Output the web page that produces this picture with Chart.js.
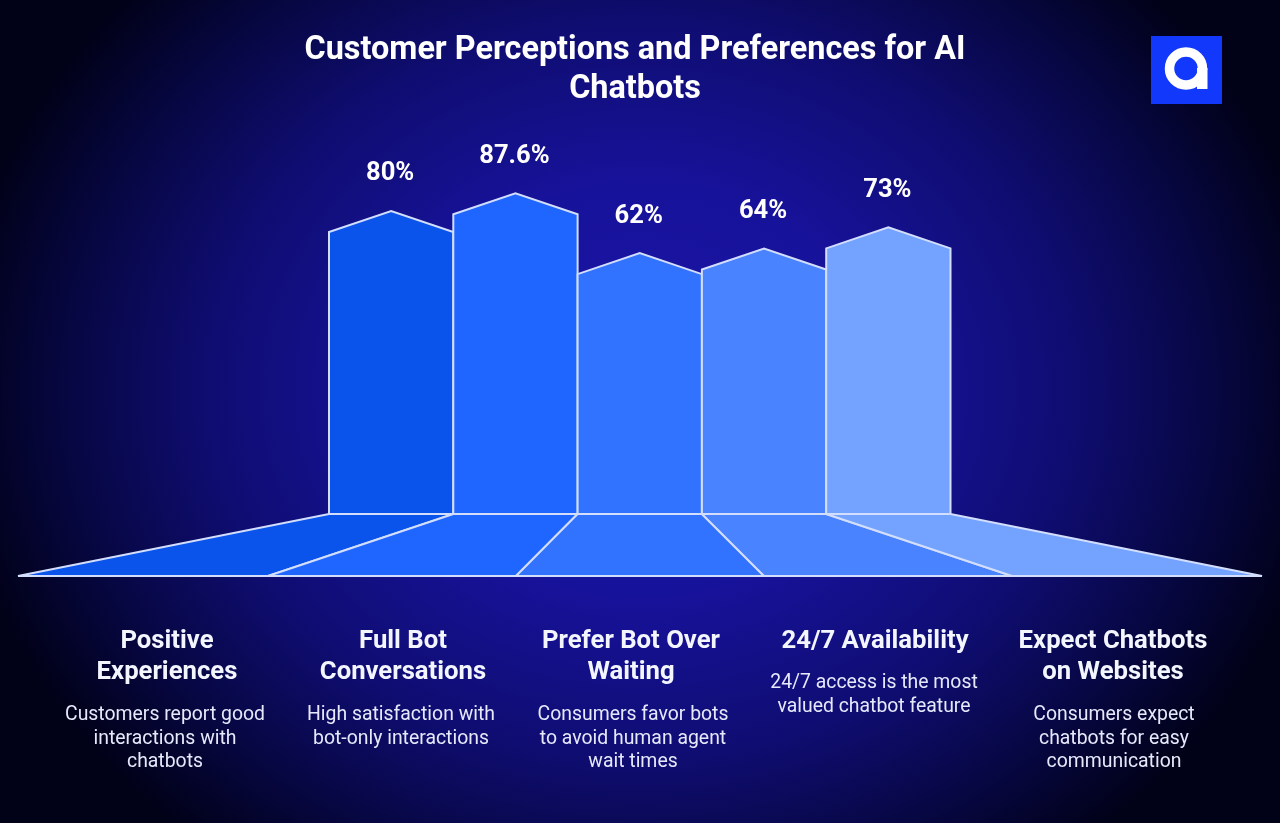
<!DOCTYPE html>
<html><head><meta charset="utf-8">
<script src="https://cdn.jsdelivr.net/npm/chart.js@4"></script>
<style>
html,body{margin:0;padding:0;width:1280px;height:823px;overflow:hidden;background:#000}
#bg{position:absolute;inset:0;background:radial-gradient(ellipse 690px 590px at 640px 390px,#1c16a8 0%,#17129a 35%,#0f0d72 62%,#070745 82%,#010118 100%)}
#c{position:absolute;left:0;top:0}
.t{position:absolute;color:#fff;text-align:center;font-family:Roboto,sans-serif;white-space:nowrap;transform:translateX(-50%)}
#title{left:635px;top:29px;font-size:32.4px;font-weight:700;line-height:38.5px}
.h{top:624px;font-size:25.7px;font-weight:700;line-height:31px;color:#f4f6ff}
.d{top:701px;font-size:19.4px;font-weight:400;line-height:23.6px;color:#e6e9fb}
#logo{position:absolute;left:1151px;top:36px}
</style></head><body>
<div id="bg"></div>
<canvas id="c" width="1280" height="823"></canvas>
<div class="t" id="title">Customer Perceptions and Preferences for AI<br>Chatbots</div>
<svg id="logo" width="71" height="68" viewBox="0 0 71 68"><rect width="71" height="68" fill="#1238fb"/><circle cx="35" cy="32.5" r="16.5" fill="none" stroke="#fff" stroke-width="9.5"/><rect x="46" y="32" width="10.5" height="21" fill="#fff"/></svg>
<div id="cols"></div>
<script>
const categories=["Positive Experiences","Full Bot Conversations","Prefer Bot Over Waiting","24/7 Availability","Expect Chatbots on Websites"];
const values=[80,87.6,62,64,73];
const valueLabels=["80%","87.6%","62%","64%","73%"];
const headLines=[["Positive","Experiences"],["Full Bot","Conversations"],["Prefer Bot Over","Waiting"],["24/7 Availability"],["Expect Chatbots","on Websites"]];
const descLines=[["Customers report good","interactions with","chatbots"],["High satisfaction with","bot-only interactions"],["Consumers favor bots","to avoid human agent","wait times"],["24/7 access is the most","valued chatbot feature"],["Consumers expect","chatbots for easy","communication"]];
const colors=["#0a54ec","#1f65ff","#3172ff","#4a83ff","#74a2ff"];
const columnX=[167,403,631,875,1113];
const descX=[165,401,633,874,1114];
const floorX=[18,268,516,764,1012,1262];
const descTop=[702,702,702,670,702];
const axisMin=-49.5, axisMax=170.2, roofDrop=21, floorDrop=62, lineColor="#d3defc";

columnX.forEach((x,i)=>{
  const h=document.createElement('div');h.className='t h';h.style.left=x+'px';h.innerHTML=headLines[i].join('<br>');
  const d=document.createElement('div');d.className='t d';d.style.left=descX[i]+'px';d.style.top=descTop[i]+'px';d.innerHTML=descLines[i].join('<br>');
  document.getElementById('cols').append(h,d);
});

const housePlugin={id:'house',afterDatasetsDraw(chart){
  const ctx=chart.ctx, bars=chart.getDatasetMeta(0).data, yBase=chart.scales.y.getPixelForValue(axisMin);
  ctx.save();ctx.lineWidth=2;ctx.strokeStyle=lineColor;ctx.lineJoin='miter';
  bars.forEach((b,i)=>{
    const l=b.x-b.width/2,r=b.x+b.width/2;
    ctx.beginPath();ctx.moveTo(l,yBase);ctx.lineTo(r,yBase);ctx.lineTo(floorX[i+1],yBase+floorDrop);ctx.lineTo(floorX[i],yBase+floorDrop);ctx.closePath();
    ctx.fillStyle=colors[i];ctx.fill();ctx.stroke();
  });
  bars.forEach((b,i)=>{
    const l=b.x-b.width/2,r=b.x+b.width/2,p=b.y;
    ctx.beginPath();ctx.moveTo(l,yBase);ctx.lineTo(l,p+roofDrop);ctx.lineTo(b.x,p);ctx.lineTo(r,p+roofDrop);ctx.lineTo(r,yBase);ctx.closePath();
    ctx.fillStyle=colors[i];ctx.fill();ctx.stroke();
    ctx.fillStyle='#fff';ctx.font='700 25.6px Roboto';ctx.textAlign='center';ctx.textBaseline='middle';
    ctx.fillText(valueLabels[i],b.x-1,p-37);
  });
  ctx.restore();
}};

new Chart(document.getElementById('c'),{
  type:'bar',
  data:{labels:categories,datasets:[{data:values.map(v=>[axisMin,v]),backgroundColor:'transparent',borderWidth:0,barPercentage:1,categoryPercentage:1}]},
  options:{responsive:false,animation:false,
    layout:{padding:{left:329,right:329.5,top:0,bottom:309}},
    plugins:{legend:{display:false},tooltip:{enabled:false}},
    scales:{x:{display:false},y:{display:false,min:axisMin,max:axisMax}}},
  plugins:[housePlugin]
});
</script>
</body></html>
